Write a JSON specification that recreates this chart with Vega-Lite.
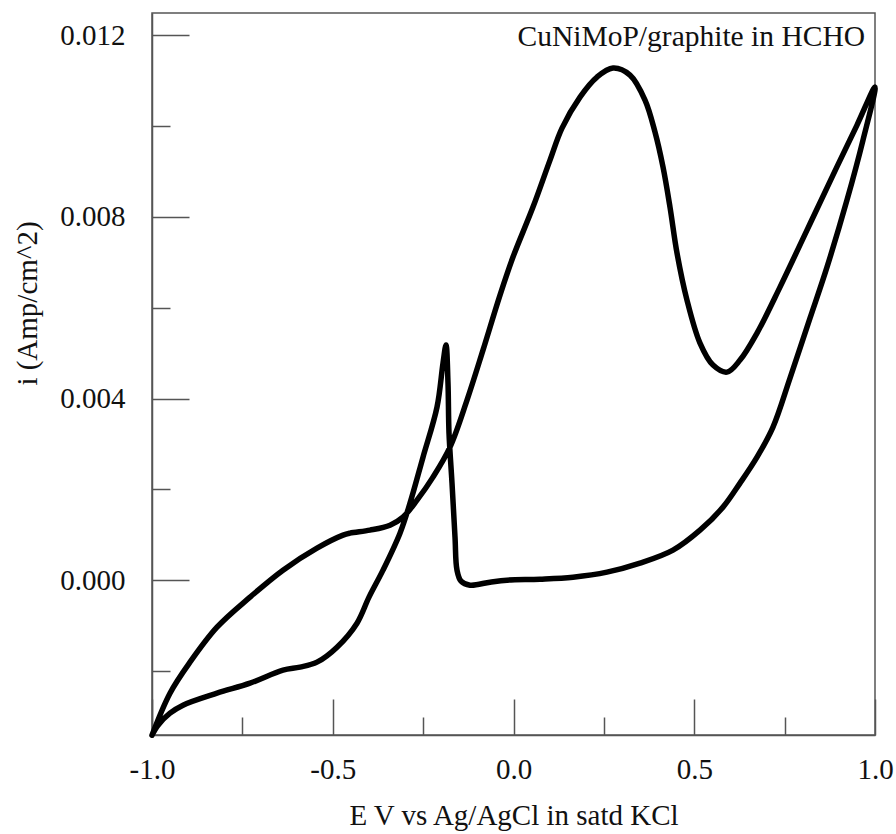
{
  "$schema": "https://vega.github.io/schema/vega-lite/v6.json",
  "width": 723,
  "height": 722,
  "autosize": {"type": "none"},
  "padding": {"left": 152, "top": 13, "right": 21, "bottom": 99},
  "background": "white",
  "title": {
    "text": "CuNiMoP/graphite in HCHO",
    "anchor": "end",
    "frame": "group",
    "orient": "top",
    "offset": -39,
    "dx": -10,
    "font": "Liberation Serif",
    "fontSize": 29.5,
    "fontWeight": "normal",
    "color": "#111"
  },
  "config": {
    "view": {"stroke": "#555", "strokeWidth": 1.5},
    "axis": {
      "domainColor": "#555",
      "domainWidth": 1.5,
      "tickColor": "#555",
      "tickWidth": 1.5,
      "grid": false,
      "labelFont": "Liberation Serif",
      "labelFontSize": 29,
      "labelColor": "#111",
      "titleFont": "Liberation Serif",
      "titleFontSize": 29,
      "titleFontWeight": "normal",
      "titleColor": "#111"
    }
  },
  "data": {
    "values": [
      {"i": 1, "E": -1.0, "I": -0.003414},
      {"i": 2, "E": -0.9834, "I": -0.003194},
      {"i": 3, "E": -0.9502, "I": -0.00293},
      {"i": 4, "E": -0.9142, "I": -0.002753},
      {"i": 5, "E": -0.8202, "I": -0.002489},
      {"i": 6, "E": -0.7289, "I": -0.002269},
      {"i": 7, "E": -0.6376, "I": -0.001982},
      {"i": 8, "E": -0.5906, "I": -0.001916},
      {"i": 9, "E": -0.5436, "I": -0.001806},
      {"i": 10, "E": -0.4882, "I": -0.001476},
      {"i": 11, "E": -0.4329, "I": -0.000947},
      {"i": 12, "E": -0.3997, "I": -0.000374},
      {"i": 13, "E": -0.361, "I": 0.00022},
      {"i": 14, "E": -0.314, "I": 0.001035},
      {"i": 15, "E": -0.2863, "I": 0.001696},
      {"i": 16, "E": -0.2503, "I": 0.002709},
      {"i": 17, "E": -0.2116, "I": 0.003811},
      {"i": 18, "E": -0.195, "I": 0.00478},
      {"i": 19, "E": -0.1867, "I": 0.005176},
      {"i": 20, "E": -0.1812, "I": 0.004339},
      {"i": 21, "E": -0.1784, "I": 0.003238},
      {"i": 22, "E": -0.1701, "I": 0.002137},
      {"i": 23, "E": -0.1618, "I": 0.000947},
      {"i": 24, "E": -0.1563, "I": 0.00022},
      {"i": 25, "E": -0.1452, "I": -0.000022},
      {"i": 26, "E": -0.1203, "I": -0.00011},
      {"i": 27, "E": -0.065, "I": -0.000044},
      {"i": 28, "E": -0.018, "I": 0.0},
      {"i": 29, "E": 0.0733, "I": 0.000022},
      {"i": 30, "E": 0.1646, "I": 0.000066},
      {"i": 31, "E": 0.2586, "I": 0.000176},
      {"i": 32, "E": 0.3499, "I": 0.000374},
      {"i": 33, "E": 0.4412, "I": 0.000661},
      {"i": 34, "E": 0.5159, "I": 0.001101},
      {"i": 35, "E": 0.5795, "I": 0.001608},
      {"i": 36, "E": 0.6266, "I": 0.002137},
      {"i": 37, "E": 0.6736, "I": 0.002709},
      {"i": 38, "E": 0.7178, "I": 0.00337},
      {"i": 39, "E": 0.7649, "I": 0.004449},
      {"i": 40, "E": 0.8202, "I": 0.005771},
      {"i": 41, "E": 0.8672, "I": 0.006894},
      {"i": 42, "E": 0.9225, "I": 0.00837},
      {"i": 43, "E": 0.9668, "I": 0.009692},
      {"i": 44, "E": 1.0, "I": 0.010859},
      {"i": 45, "E": 0.9502, "I": 0.010022},
      {"i": 46, "E": 0.8838, "I": 0.008921},
      {"i": 47, "E": 0.8119, "I": 0.007709},
      {"i": 48, "E": 0.7372, "I": 0.006454},
      {"i": 49, "E": 0.6736, "I": 0.005441},
      {"i": 50, "E": 0.6266, "I": 0.004846},
      {"i": 51, "E": 0.5906, "I": 0.004581},
      {"i": 52, "E": 0.5519, "I": 0.004736},
      {"i": 53, "E": 0.5159, "I": 0.00522},
      {"i": 54, "E": 0.4799, "I": 0.006167},
      {"i": 55, "E": 0.4523, "I": 0.007203},
      {"i": 56, "E": 0.4329, "I": 0.008216},
      {"i": 57, "E": 0.4136, "I": 0.009097},
      {"i": 58, "E": 0.3914, "I": 0.009868},
      {"i": 59, "E": 0.3638, "I": 0.010573},
      {"i": 60, "E": 0.3223, "I": 0.011123},
      {"i": 61, "E": 0.2753, "I": 0.011278},
      {"i": 62, "E": 0.231, "I": 0.011079},
      {"i": 63, "E": 0.184, "I": 0.010639},
      {"i": 64, "E": 0.1342, "I": 0.009956},
      {"i": 65, "E": 0.101, "I": 0.009251},
      {"i": 66, "E": 0.0539, "I": 0.008216},
      {"i": 67, "E": -0.0014, "I": 0.007115},
      {"i": 68, "E": -0.0373, "I": 0.006278},
      {"i": 69, "E": -0.0844, "I": 0.005066},
      {"i": 70, "E": -0.1286, "I": 0.003965},
      {"i": 71, "E": -0.1757, "I": 0.00293},
      {"i": 72, "E": -0.2227, "I": 0.002269},
      {"i": 73, "E": -0.2669, "I": 0.001762},
      {"i": 74, "E": -0.3057, "I": 0.001388},
      {"i": 75, "E": -0.3416, "I": 0.001211},
      {"i": 76, "E": -0.397, "I": 0.001101},
      {"i": 77, "E": -0.4523, "I": 0.001035},
      {"i": 78, "E": -0.4716, "I": 0.000991},
      {"i": 79, "E": -0.5436, "I": 0.000705},
      {"i": 80, "E": -0.6376, "I": 0.00022},
      {"i": 81, "E": -0.7289, "I": -0.000374},
      {"i": 82, "E": -0.8202, "I": -0.001035},
      {"i": 83, "E": -0.8949, "I": -0.001806},
      {"i": 84, "E": -0.9502, "I": -0.002489},
      {"i": 85, "E": -1.0, "I": -0.003414}
    ]
  },
  "layer": [
    {
      "mark": {"type": "line", "color": "black", "strokeWidth": 5.5, "strokeJoin": "round", "strokeCap": "round", "interpolate": "catmull-rom"},
      "encoding": {
        "x": {
          "field": "E", "type": "quantitative",
          "scale": {"domain": [-1, 1], "nice": false, "zero": false},
          "axis": {
            "orient": "bottom",
            "title": "E V vs Ag/AgCl in satd KCl",
            "values": [-1, -0.5, 0, 0.5, 1],
            "labelExpr": "replace(format(datum.value, '.1f'), '\u2212', '-')",
            "tickSize": -36,
            "labelPadding": 56,
            "titlePadding": 17,
            "labelFlush": false,
            "labelOverlap": false
          }
        },
        "y": {
          "field": "I", "type": "quantitative",
          "scale": {"domain": [-0.00341, 0.01249], "nice": false, "zero": false},
          "axis": {
            "orient": "left",
            "title": "i (Amp/cm^2)",
            "values": [0, 0.004, 0.008, 0.012],
            "format": ".3f",
            "tickSize": -37,
            "labelPadding": 64,
            "titleX": -110,
            "titleY": 290,
            "labelFlush": false,
            "labelOverlap": false
          }
        },
        "order": {"field": "i", "type": "quantitative"}
      }
    },
    {
      "mark": {"type": "line", "strokeOpacity": 0},
      "encoding": {
        "x": {
          "field": "E", "type": "quantitative",
          "scale": {"domain": [-1, 1], "nice": false, "zero": false},
          "axis": {
            "orient": "bottom",
            "title": null,
            "values": [-0.75, -0.25, 0.25, 0.75],
            "labels": false,
            "domain": false,
            "tickSize": -18
          }
        },
        "y": {
          "field": "I", "type": "quantitative",
          "scale": {"domain": [-0.00341, 0.01249], "nice": false, "zero": false},
          "axis": {
            "orient": "left",
            "title": null,
            "values": [-0.002, 0.002, 0.006, 0.01],
            "labels": false,
            "domain": false,
            "tickSize": -18
          }
        },
        "order": {"field": "i", "type": "quantitative"}
      }
    }
  ],
  "resolve": {"axis": {"x": "independent", "y": "independent"}}
}
